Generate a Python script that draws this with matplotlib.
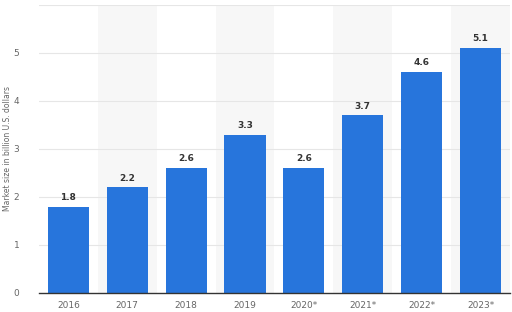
import matplotlib
matplotlib.use("Agg")
import matplotlib.pyplot as plt
import numpy as np

categories = ["2016", "2017", "2018", "2019", "2020*", "2021*", "2022*", "2023*"]
values = [1.8, 2.2, 2.6, 3.3, 2.6, 3.7, 4.6, 5.1]
yticks = [0, 1, 2, 3, 4, 5]

fig = plt.figure(figsize=(5.12, 3.12), dpi=100)
ax = fig.add_axes([0.076, 0.061, 0.92, 0.923])
x = np.arange(len(categories))
for i in x:
    if i % 2 == 1:
        ax.axvspan(i - 0.5, i + 0.5, color="#f7f7f7", zorder=0, lw=0)
bars = ax.bar(x, values, width=0.7, color="#2775dc", zorder=3)
for xi, v in zip(x, values):
    ax.text(xi, v + 0.1, f"{v:.1f}", ha="center", va="bottom", fontsize=6.5,
            color="#333333", fontweight="semibold", zorder=4)
ax.set_xlim(-0.5, len(categories) - 0.5)
ax.set_ylim(0, 6)
ax.set_yticks(yticks)
ax.set_xticks(x)
ax.set_xticklabels(categories)
for yv in [1, 2, 3, 4, 5, 6]:
    ax.axhline(yv, color="#e6e6e6", lw=0.8, zorder=1)
ax.tick_params(axis="both", length=0, labelsize=6.5, labelcolor="#666666")
ax.tick_params(axis="x", pad=6)
ax.tick_params(axis="y", pad=14)
for s in ["top", "right", "left"]:
    ax.spines[s].set_visible(False)
ax.spines["bottom"].set_color("#333333")
ax.spines["bottom"].set_linewidth(1.0)
ax.spines["bottom"].set_zorder(5)
ax.set_ylabel("Market size in billion U.S. dollars", fontsize=5.5, color="#666666")
ax.yaxis.set_label_coords(-0.057, 0.5)
fig.savefig("out.png", dpi=100)
